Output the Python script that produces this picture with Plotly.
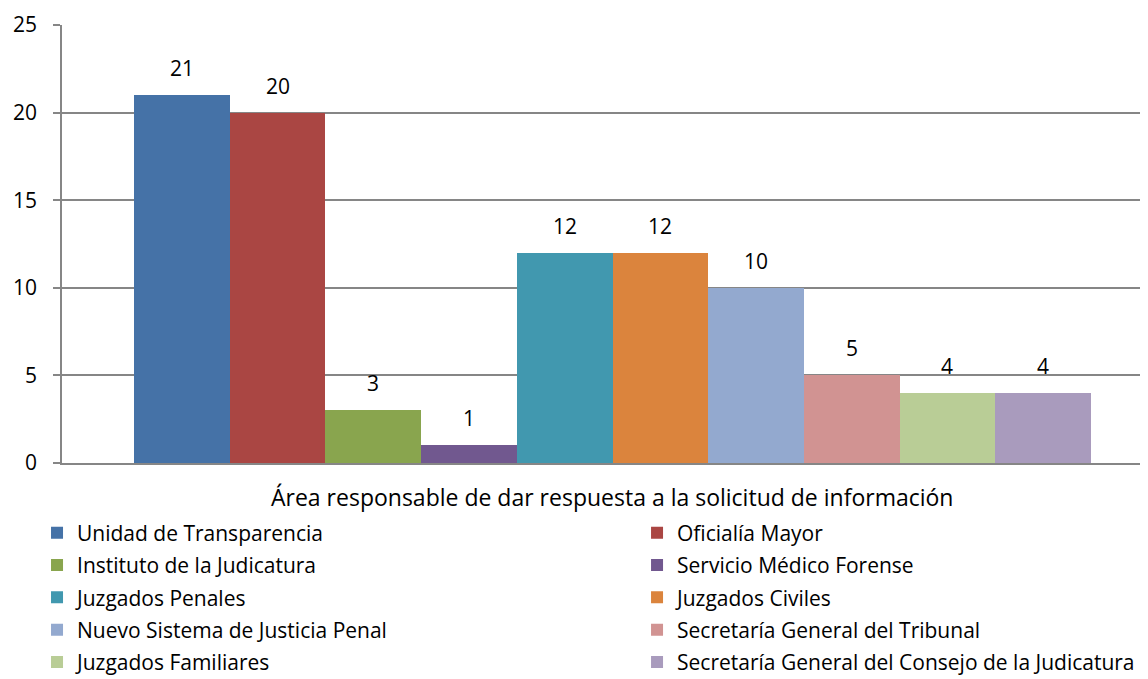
import plotly.graph_objects as go

series = ["Unidad de Transparencia", "Oficialía Mayor", "Instituto de la Judicatura",
          "Servicio Médico Forense", "Juzgados Penales", "Juzgados Civiles",
          "Nuevo Sistema de Justicia Penal", "Secretaría General del Tribunal",
          "Juzgados Familiares", "Secretaría General del Consejo de la Judicatura"]
values = [21, 20, 3, 1, 12, 12, 10, 5, 4, 4]
colors = ["#4572A7", "#AA4643", "#89A54E", "#71588F", "#4198AF",
          "#DB843D", "#93A9CF", "#D19392", "#B9CD96", "#A99BBD"]
y_ticks = [0, 5, 10, 15, 20, 25]
axis_title = "Área responsable de dar respuesta a la solicitud de información"

FONT = "Open Sans"
FS = 21
fig = go.Figure()
for i, (name, v, c) in enumerate(zip(series, values, colors)):
    fig.add_trace(go.Bar(
        x=[i], y=[v], name=name, marker=dict(color=c, line=dict(width=0)),
        width=1.0, legend="legend" if i % 2 == 0 else "legend2",
        legendgroup=name, hoverinfo="skip",
    ))
    fig.add_annotation(x=i, y=v, text=str(v), showarrow=False, yshift=27,
                       yanchor="middle", font=dict(family=FONT, size=FS, color="#000"))

fig.add_annotation(xref="paper", yref="paper", x=0.5069, y=-0.0776, text=axis_title,
                   showarrow=False, xanchor="center", yanchor="middle",
                   font=dict(family=FONT, size=23, color="#000"))

# category-axis end tick
fig.add_shape(type="line", xref="x domain", x0=0, x1=0, yref="y", ysizemode="pixel",
              yanchor=0, y0=0, y1=-7, line=dict(color="#868686", width=1.5))

fig.update_layout(
    width=1140, height=671,
    margin=dict(l=54, r=0, t=17, b=216, autoexpand=False),
    paper_bgcolor="white", plot_bgcolor="white",
    barmode="overlay", bargap=0,
    font=dict(family=FONT, size=FS, color="#000"),
    xaxis=dict(range=[-1.2524, 10.0956], showticklabels=False, showgrid=False,
               zeroline=False, showline=True, linecolor="#868686", linewidth=1.5,
               ticks=""),
    yaxis=dict(range=[0, 25], tickvals=y_ticks, showgrid=True, gridcolor="#868686",
               gridwidth=1.5, zeroline=False, showline=True, linecolor="#868686",
               linewidth=1.5, ticks="outside", ticklen=7, tickcolor="#868686",
               tickwidth=1.5, ticklabelstandoff=12,
               tickfont=dict(family=FONT, size=FS, color="#000")),
    legend=dict(x=-0.023, y=-0.1132, xanchor="left", yanchor="top",
                orientation="v", tracegroupgap=2, bgcolor="rgba(0,0,0,0)",
                font=dict(family=FONT, size=FS, color="#000")),
    legend2=dict(x=0.5295, y=-0.1132, xanchor="left", yanchor="top",
                 orientation="v", tracegroupgap=2, bgcolor="rgba(0,0,0,0)",
                 font=dict(family=FONT, size=FS, color="#000")),
    showlegend=True,
)

fig.write_html("out.html")
